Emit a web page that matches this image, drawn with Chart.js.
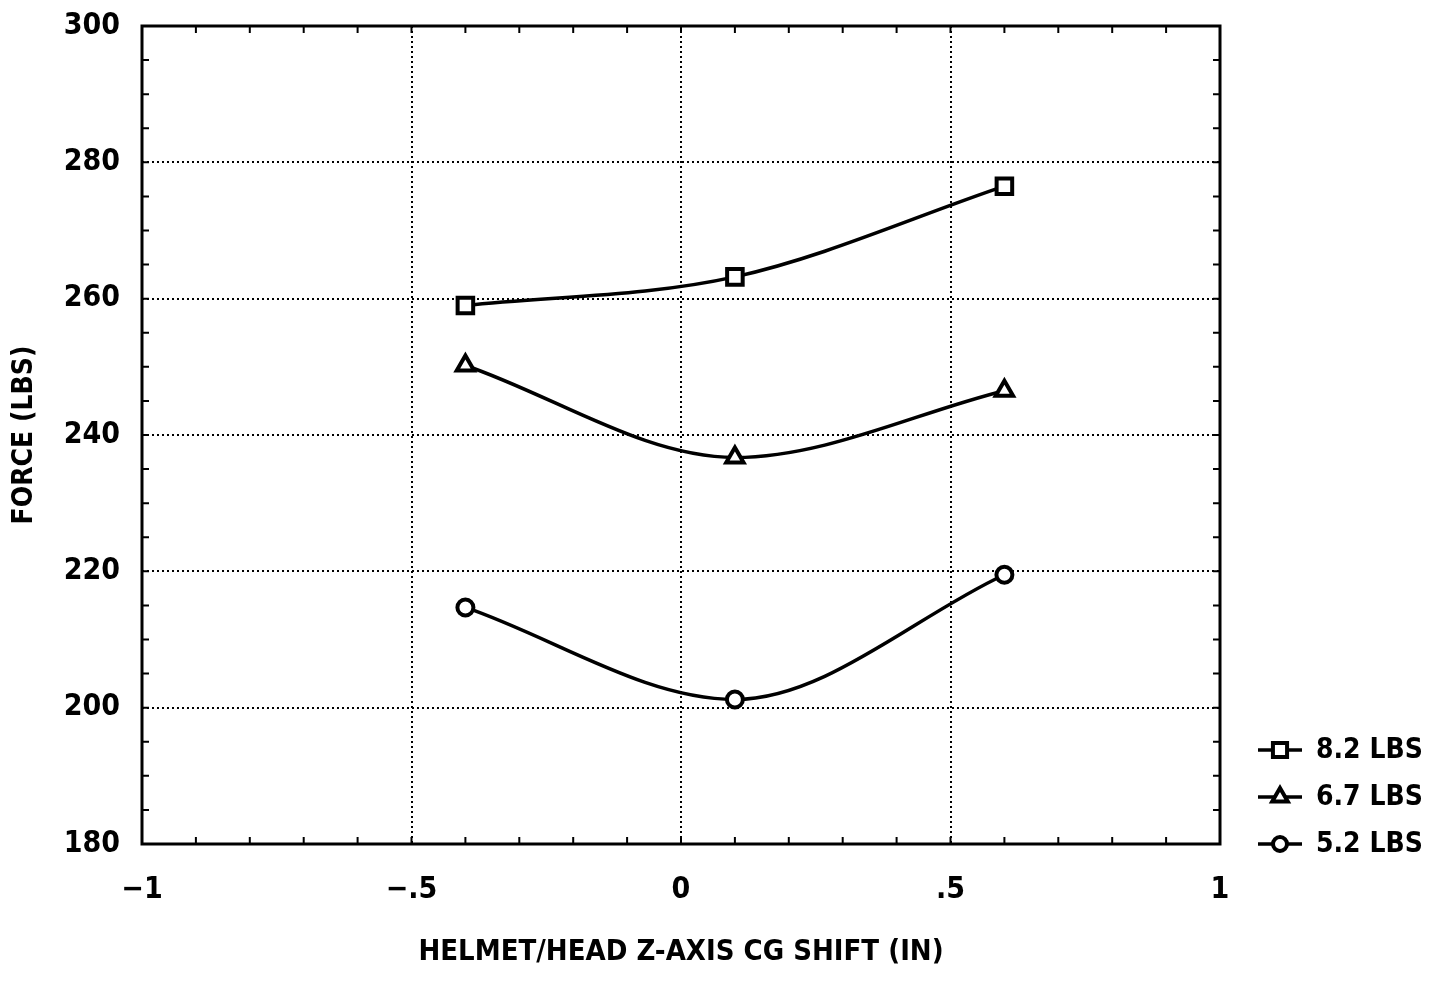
<!DOCTYPE html>
<html>
<head>
<meta charset="utf-8">
<script src="https://cdn.jsdelivr.net/npm/chart.js@4/dist/chart.umd.min.js"></script>
<style>
  html, body { margin: 0; padding: 0; background: #fff; overflow: hidden; }
  #wrap { width: 1445px; height: 1000px; position: absolute; left: 0; top: -14px; }
</style>
</head>
<body>
<div id="wrap"><canvas id="c"></canvas></div>
<script>
// ---- data ----
const xValues = [-0.4, 0.1, 0.6];
const series82 = [259, 263.2, 276.5];
const series67 = [250.2, 236.7, 246.5];
const series52 = [214.7, 201.2, 219.5];
const seriesLabels = ['8.2 LBS', '6.7 LBS', '5.2 LBS'];
const pointStyles = ['rect', 'triangle', 'circle'];
const xTickLabels = {'-1': '\u22121', '-0.5': '\u2212.5', '0': '0', '0.5': '.5', '1': '1'};
const yTicks = [180, 200, 220, 240, 260, 280, 300];

const FONT = '"DejaVu Sans Condensed", "DejaVu Sans", sans-serif';
const RADII = [11, 10, 8];
const OFFSET = 14;

function toPoints(ys) { return xValues.map((x, i) => ({x: x, y: ys[i]})); }

const datasets = [series82, series67, series52].map((s, i) => ({
  label: seriesLabels[i],
  data: toPoints(s),
  borderColor: '#000',
  backgroundColor: '#fff',
  borderWidth: 3.5,
  pointStyle: pointStyles[i],
  pointRadius: RADII[i],
  pointBorderWidth: 4,
  pointBackgroundColor: '#fff',
  pointBorderColor: '#000',
  cubicInterpolationMode: 'monotone',
  fill: false
}));

const framePlugin = {
  id: 'frame',
  beforeDatasetsDraw(chart) {
    const {ctx, chartArea: a, scales} = chart;
    ctx.save();
    ctx.strokeStyle = '#000';
    ctx.lineWidth = 3;
    ctx.strokeRect(a.left, a.top, a.right - a.left, a.bottom - a.top);
    ctx.lineWidth = 2;
    const L = 7;
    for (let k = -10; k <= 10; k++) {
      const px = scales.x.getPixelForValue(k / 10);
      ctx.beginPath();
      ctx.moveTo(px, a.bottom); ctx.lineTo(px, a.bottom - L);
      ctx.moveTo(px, a.top); ctx.lineTo(px, a.top + L);
      ctx.stroke();
    }
    for (let v = 180; v <= 300; v += 5) {
      const py = scales.y.getPixelForValue(v);
      ctx.beginPath();
      ctx.moveTo(a.left, py); ctx.lineTo(a.left + L, py);
      ctx.moveTo(a.right, py); ctx.lineTo(a.right - L, py);
      ctx.stroke();
    }
    ctx.restore();
  }
};

const legendPlugin = {
  id: 'customLegend',
  afterDraw(chart) {
    const ctx = chart.ctx;
    ctx.save();
    chart.data.datasets.forEach((ds, i) => {
      const y = 750 + OFFSET + i * 47;
      ctx.strokeStyle = '#000';
      ctx.lineWidth = 3.5;
      ctx.beginPath();
      ctx.moveTo(1258, y); ctx.lineTo(1302, y);
      ctx.stroke();
      ctx.fillStyle = '#fff';
      ctx.strokeStyle = '#000';
      ctx.lineWidth = 4;
      Chart.helpers.drawPoint(ctx, {pointStyle: ds.pointStyle, radius: RADII[i] - 1, borderWidth: 4, rotation: 0}, 1280, y);
      ctx.fillStyle = '#000';
      ctx.font = 'bold 28px ' + FONT;
      ctx.textAlign = 'left';
      ctx.textBaseline = 'middle';
      ctx.fillText(ds.label, 1316, y + 1);
    });
    ctx.restore();
  }
};

new Chart(document.getElementById('c'), {
  type: 'line',
  data: { datasets },
  options: {
    responsive: true,
    maintainAspectRatio: false,
    animation: false,
    layout: { padding: { top: 12, right: 225, left: 0, bottom: 0 } },
    plugins: { legend: { display: false }, tooltip: { enabled: false } },
    scales: {
      x: {
        type: 'linear', min: -1, max: 1,
        afterFit(s) { s.height = 142; },
        afterBuildTicks(s) { s.ticks = [-1, -0.5, 0, 0.5, 1].map(v => ({value: v})); },
        ticks: {
          color: '#000', padding: 28,
          font: { family: FONT, size: 30, weight: 'bold' },
          callback: v => xTickLabels[String(v)]
        },
        grid: {
          drawTicks: false, lineWidth: 2,
          color: c => (c.tick && (c.tick.value === -1 || c.tick.value === 1)) ? 'rgba(0,0,0,0)' : '#000'
        },
        border: { display: false, dash: [2, 3] },
        title: {
          display: true, text: 'HELMET/HEAD Z-AXIS CG SHIFT (IN)', color: '#000',
          font: { family: FONT, size: 29, weight: 'bold' },
          padding: { top: 0, bottom: 16 }
        }
      },
      y: {
        type: 'linear', min: 180, max: 300,
        afterFit(s) { s.width = 142; },
        afterBuildTicks(s) { s.ticks = yTicks.map(v => ({value: v})); },
        ticks: {
          color: '#000', padding: 22,
          font: { family: FONT, size: 30, weight: 'bold' },
          callback: v => String(v)
        },
        grid: {
          drawTicks: false, lineWidth: 2,
          color: c => (c.tick && (c.tick.value === 180 || c.tick.value === 300)) ? 'rgba(0,0,0,0)' : '#000'
        },
        border: { display: false, dash: [2, 3] },
        title: {
          display: true, text: 'FORCE (LBS)', color: '#000',
          font: { family: FONT, size: 28, weight: 'bold' },
          padding: { top: 8, bottom: 0 }
        }
      }
    }
  },
  plugins: [framePlugin, legendPlugin]
});
</script>
</body>
</html>
